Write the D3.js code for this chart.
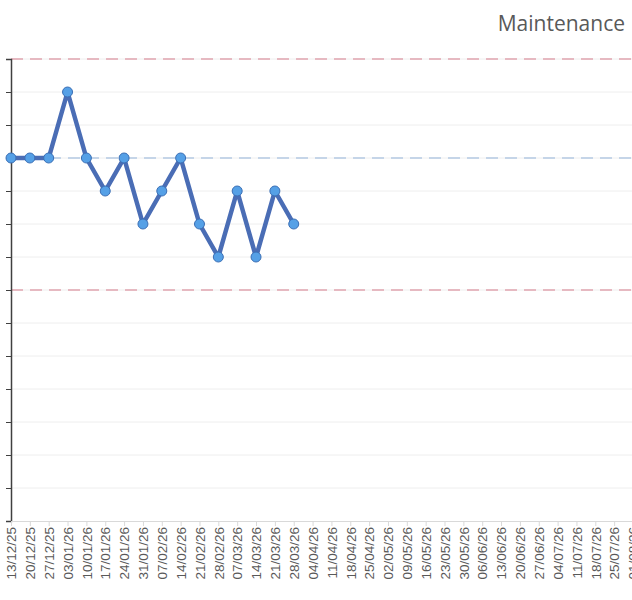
<!DOCTYPE html>
<html><head><meta charset="utf-8">
<script src="https://cdn.jsdelivr.net/npm/d3@7"></script>
<style>body{margin:0;background:#fff}svg{display:block;font-family:"Open Sans",sans-serif}</style>
</head><body><svg id="c" width="632" height="600"></svg>
<script>
const title = "Maintenance";
const startDate = new Date(2025, 11, 13);
const weekCount = 34;
const values = [11, 11, 11, 13, 11, 10, 11, 9, 10, 11, 9, 8, 10, 8, 10, 9];
const upperLimit = 14, lowerLimit = 7, centerLine = 11;
const yTicks = d3.range(0, 15);

const fmt = d3.timeFormat("%d/%m/%y");
const dates = d3.range(weekCount).map(i => fmt(d3.timeDay.offset(startDate, 7 * i)));

const svg = d3.select("#c");
const x = d3.scalePoint().domain(dates).range([11, 633]);
const y = d3.scaleLinear().domain([0, 14]).range([521, 59]);

svg.append("g").selectAll("line").data(yTicks.slice(1)).join("line")
  .attr("x1", 11).attr("x2", 632).attr("y1", d => y(d)).attr("y2", d => y(d))
  .attr("stroke", "#eeeeee").attr("stroke-width", 1);

[[upperLimit, "#e6b9c1"], [lowerLimit, "#e6b9c1"], [centerLine, "#c5d5e8"]].forEach(([v, c]) => {
  svg.append("line").attr("x1", 11).attr("x2", 632).attr("y1", y(v)).attr("y2", y(v))
    .attr("stroke", c).attr("stroke-width", 2).attr("stroke-dasharray", "12,7");
});

const ya = svg.append("g").attr("transform", "translate(11,0)")
  .call(d3.axisLeft(y).tickValues(yTicks).tickSize(5).tickFormat(""));
ya.select(".domain").attr("stroke", "#404040").attr("stroke-width", 1.5);
ya.selectAll(".tick line").attr("stroke", "#404040");

const xa = svg.append("g").attr("transform", "translate(0,521)")
  .call(d3.axisBottom(x).tickSize(5).tickSizeOuter(0));
xa.select(".domain").attr("stroke", "#d9d9d9");
xa.selectAll(".tick line").attr("stroke", "#d9d9d9");
xa.selectAll("text").attr("transform", "rotate(-90)")
  .attr("text-anchor", "end").attr("x", -6).attr("y", 0).attr("dy", "0.35em")
  .attr("fill", "#595959").style("font-size", "13.5px");

const pts = values.map((v, i) => [x(dates[i]), y(v)]);
svg.append("path").attr("d", d3.line()(pts)).attr("fill", "none")
  .attr("stroke", "#4a6db5").attr("stroke-width", 4.5).attr("stroke-linejoin", "round");
svg.append("g").selectAll("circle").data(pts).join("circle")
  .attr("cx", d => d[0]).attr("cy", d => d[1]).attr("r", 5)
  .attr("fill", "#55a0e6").attr("stroke", "#3b6fb5").attr("stroke-width", 1);

svg.append("text").attr("x", 625).attr("y", 31).attr("text-anchor", "end")
  .attr("fill", "#595959").style("font-size", "21px").text(title);
</script></body></html>
